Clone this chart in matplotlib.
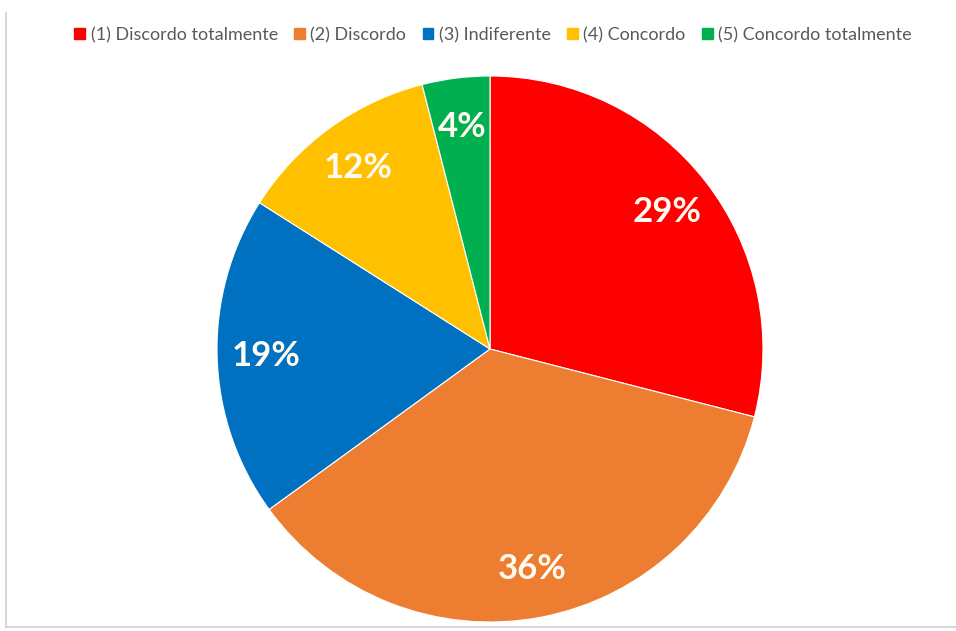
import matplotlib
matplotlib.use("Agg")
import matplotlib.pyplot as plt
from matplotlib.lines import Line2D
from matplotlib.patches import Patch

labels = ["(1) Discordo totalmente", "(2) Discordo", "(3) Indiferente",
          "(4) Concordo", "(5) Concordo totalmente"]
shares = [29, 36, 19, 12, 4]
colors = ["#FF0000", "#ED7D31", "#0070C0", "#FFC000", "#00B050"]

W, H = 956, 631
fig = plt.figure(figsize=(W / 100, H / 100), dpi=100)
fig.patch.set_facecolor("white")

# pie centre and radius in pixels
cx, cy, r = 490, 349, 273
ax = fig.add_axes([(cx - r) / W, (H - cy - r) / H, 2 * r / W, 2 * r / H])
wedges, texts, autotexts = ax.pie(
    shares, colors=colors, startangle=90, counterclock=False,
    autopct=lambda p: f"{p:.0f}%", pctdistance=0.82, radius=1,
    wedgeprops=dict(edgecolor="white", linewidth=0.8),
    textprops=dict(color="#FFFBF0", fontsize=25, fontweight="bold", family="Lato"),
)
ax.set_xlim(-1, 1)
ax.set_ylim(-1, 1)
ax.set_aspect("equal")
ax.axis("off")

handles = [Patch(facecolor=c, edgecolor=c) for c in colors]
fig.legend(handles, labels, loc="center", bbox_to_anchor=(493 / W, 1 - 35 / H),
           ncol=5, frameon=False, handlelength=0.6, handleheight=0.6,
           handletextpad=0.3, columnspacing=0.9, labelcolor="#595959",
           prop=dict(family="Lato", size=13))

# chart area border (left and bottom visible)
fig.add_artist(Line2D([6 / W, 6 / W], [1 - 13 / H, 1 - 627 / H], color="#D0D0D0", lw=1.2))
fig.add_artist(Line2D([6 / W, 1], [1 - 627 / H, 1 - 627 / H], color="#D0D0D0", lw=1.2))

fig.savefig("out.png", dpi=100)
